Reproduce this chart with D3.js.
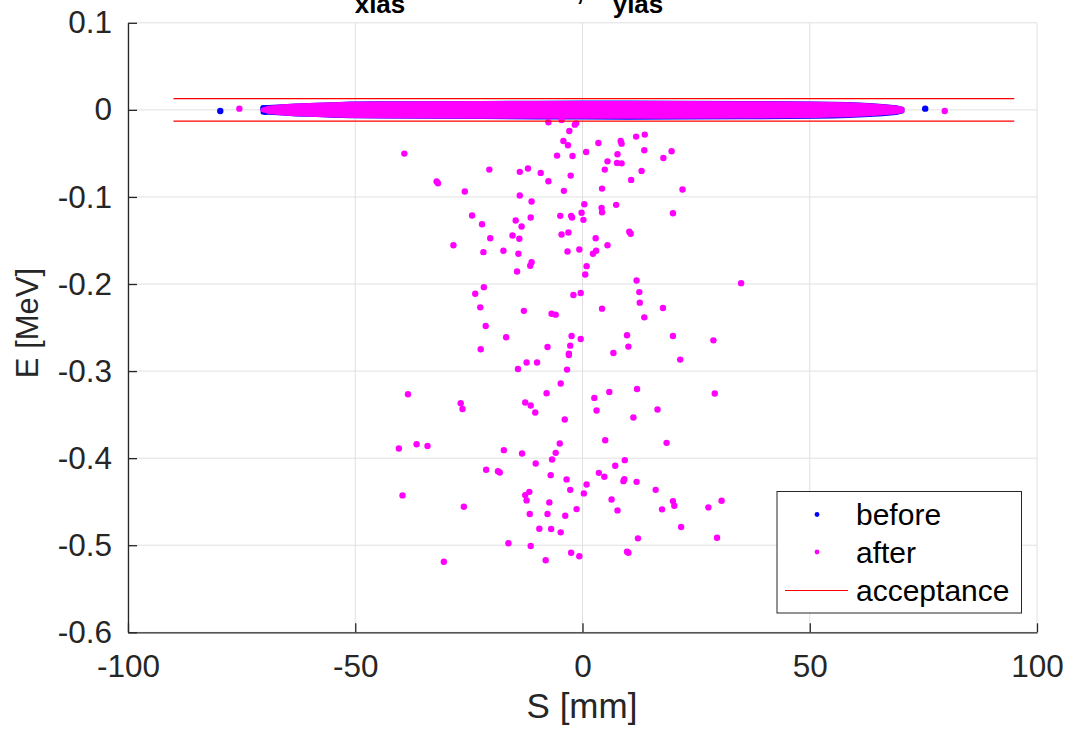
<!DOCTYPE html>
<html>
<head>
<meta charset="utf-8">
<script src="https://cdn.jsdelivr.net/npm/d3@7"></script>
<style>
  html, body { margin: 0; padding: 0; background: #ffffff; }
  svg { display: block; font-family: "Liberation Sans", Arial, Helvetica, sans-serif; }
</style>
</head>
<body>
<svg id="chart" width="1074" height="729"></svg>
<script>
// ---- axis ticks ----
const sTicks = [-100, -50, 0, 50, 100];
const sTickLabels = ["-100", "-50", "0", "50", "100"];
const eTicks = [-0.6, -0.5, -0.4, -0.3, -0.2, -0.1, 0, 0.1];
const eTickLabels = ["-0.6", "-0.5", "-0.4", "-0.3", "-0.2", "-0.1", "0", "0.1"];

// ---- acceptance window (MeV) and its S extent (mm) ----
const acceptanceE = [0.013, -0.013];
const acceptanceS = [-90, 95];

// ---- dense core of the bunch: envelope of the particle cloud per S slice ----
const coreS      = [-70.5, -69, -66, -63, -58.5, -55, -51, -45, -35, -22, -10, 0, 10, 22, 35, 45, 51, 55, 58.5, 63, 66, 69, 70.5];
const beforeTop  = [0.0035, 0.004, 0.0047, 0.0057, 0.0065, 0.0071, 0.0078, 0.0082, 0.0083, 0.0086, 0.0087, 0.0090, 0.0089, 0.0088, 0.0085, 0.0082, 0.0080, 0.0077, 0.0072, 0.0061, 0.0049, 0.0036, 0.0016];
const beforeBot  = [-0.0035, -0.004, -0.0048, -0.0058, -0.0066, -0.0072, -0.0078, -0.0081, -0.0084, -0.0089, -0.0092, -0.0094, -0.0095, -0.0094, -0.0091, -0.0088, -0.0085, -0.0081, -0.0076, -0.0066, -0.0055, -0.0041, -0.0022];
const afterTop   = [0.0008, 0.003, 0.0046, 0.0056, 0.0064, 0.0069, 0.0075, 0.0079, 0.0082, 0.0085, 0.0085, 0.0086, 0.0085, 0.0084, 0.0082, 0.0079, 0.0076, 0.0073, 0.0069, 0.0059, 0.0047, 0.0034, 0.0018];
const afterBot   = [-0.0008, -0.003, -0.0047, -0.0057, -0.0065, -0.0071, -0.0077, -0.0079, -0.0082, -0.0085, -0.0086, -0.0086, -0.0086, -0.0085, -0.0082, -0.0079, -0.0075, -0.0071, -0.0067, -0.0057, -0.0046, -0.0034, -0.0018];

// ---- isolated particles outside the core ----
const beforeS = [-79.7, 75.4, -70.2, -69.8];
const beforeE = [-0.0013, 0.0014, 0.0016, -0.0022];

const afterS = [
  -75.5, 79.7,
  -7.5, -4.6, -1.7, -1.4, -2.9, -4.2, -3.2, -5.6, -2.2, 0.8, 3.5, 8.4, 8.6, 11.8, 13.7, 13.6, 7.7, 5.5,
  7.6, 8.6, 4.9, 13.0, 17.8, 19.6, -39.2, -20.5, -13.8, -12.0, -9.2, -2.6, -7.5, -32.1, -31.8, -25.9,
  -13.8, -11.2, -4.1, 4.3, 10.7, 22.0, 0.4, 4.2, 4.3, 7.4, -0.2, 0.2, 19.9, -24.3, -22.1, -14.7,
  -13.4, -11.4, -4.9, -2.5, -2.3, -20.3, -15.4, -13.9, -4.6, -3.1, 2.9, 10.3, 10.6, -28.4, -21.8, -17.4,
  -14.1, -3.3, -0.7, 2.3, 3.0, 5.5, -14.4, -11.5, -11.2, 0.9, 0.6, 11.9, 12.5, 12.6, 34.9, -21.7,
  -23.6, -22.5, -2.0, -0.4, 4.3, 17.7, -12.9, -6.8, -5.9, 13.6, -21.3, -16.8, -22.4, -7.7, -2.4, -0.4,
  -2.7, -3.0, -3.0, 9.8, 10.1, 6.8, 19.9, 28.8, 21.5, -14.2, -12.3, -10.0, -3.4, -4.8, -7.9, -38.4,
  -26.8, -26.4, -12.6, -11.4, -10.4, -3.9, 2.6, 5.9, 12.0, 3.1, 16.5, 11.2, 29.1, -40.4, -36.5, -34.1,
  -17.3, -13.3, -5.0, -5.9, -6.7, -10.3, 5.0, 18.5, 9.3, 7.2, -21.2, -18.6, -18.2, -7.0, -3.5, 3.6,
  4.8, 9.0, 9.2, 11.9, 0.9, -2.7, 0.3, -12.6, -11.7, -12.3, -39.6, -26.1, -7.3, 16.1, 6.4, 7.7,
  -1.3, -3.8, -7.7, -11.6, 19.9, 20.2, 17.5, 27.7, 30.6, 21.7, -9.5, -6.9, -4.8, -16.3, -11.4, 12.2,
  29.6, -30.5, -8.1, -2.5, -0.7, 9.8, 10.1
];
const afterE = [
  0.0014, -0.0013,
  -0.0143, -0.0116, -0.0170, -0.0155, -0.0242, -0.0357, -0.0407, -0.0525, -0.0529, -0.0483, -0.0380, -0.0357, -0.0388, -0.0307, -0.0284, -0.0464, -0.0510, -0.0591,
  -0.0609, -0.0614, -0.0686, -0.0701, -0.0552, -0.0476, -0.0502, -0.0686, -0.0712, -0.0674, -0.0724, -0.0755, -0.0820, -0.0823, -0.0843, -0.0938,
  -0.0984, -0.1053, -0.0930, -0.0904, -0.0804, -0.0915, -0.1084, -0.1125, -0.1175, -0.1091, -0.1182, -0.1263, -0.1187, -0.1213, -0.1313, -0.1271,
  -0.1339, -0.1236, -0.1217, -0.1217, -0.1236, -0.1474, -0.1443, -0.1480, -0.1431, -0.1408, -0.1474, -0.1400, -0.1423, -0.1554, -0.1634, -0.1618,
  -0.1653, -0.1626, -0.1603, -0.1653, -0.1618, -0.1554, -0.1856, -0.1790, -0.1749, -0.1795, -0.1890, -0.1959, -0.2093, -0.2214, -0.1990, -0.2036,
  -0.2111, -0.2268, -0.2127, -0.2104, -0.2283, -0.2276, -0.2308, -0.2341, -0.2352, -0.2383, -0.2483, -0.2612, -0.2750, -0.2724, -0.2597, -0.2632,
  -0.2708, -0.2799, -0.2815, -0.2589, -0.2719, -0.2792, -0.2597, -0.2647, -0.2868, -0.2976, -0.2902, -0.2902, -0.2983, -0.3143, -0.3255, -0.3266,
  -0.3369, -0.3435, -0.3361, -0.3396, -0.3476, -0.3556, -0.3308, -0.3240, -0.3205, -0.3453, -0.3442, -0.3533, -0.3258, -0.3889, -0.3840, -0.3859,
  -0.3908, -0.3946, -0.3831, -0.3939, -0.4015, -0.4061, -0.3794, -0.3824, -0.4023, -0.4088, -0.4134, -0.4149, -0.4164, -0.4195, -0.4244, -0.4169,
  -0.4214, -0.4264, -0.4241, -0.4272, -0.4302, -0.4364, -0.4405, -0.4424, -0.4387, -0.4485, -0.4428, -0.4558, -0.4508, -0.4364, -0.4474, -0.4600,
  -0.4585, -0.4662, -0.4642, -0.4642, -0.4493, -0.4547, -0.4588, -0.4565, -0.4490, -0.4791, -0.4811, -0.4814, -0.4852, -0.4978, -0.5009, -0.4921,
  -0.4914, -0.5189, -0.5173, -0.5086, -0.5127, -0.5075, -0.5086
];

// ---- legend entries ----
const legendNames = ["before", "after", "acceptance"];

// ---- colours ----
const blue = "#0000ff";
const magenta = "#ff00ff";
const red = "#ff0000";
const axisColor = "#262626";
const gridColor = "#e0e0e0";

const svg = d3.select("#chart");
const plot = { left: 128, right: 1037, top: 22.8, bottom: 632.3 };

const x = d3.scaleLinear().domain([-100, 100]).range([plot.left, plot.right]);
const y = d3.scaleLinear().domain([-0.6, 0.1]).range([plot.bottom, plot.top]);

// grid
const grid = svg.append("g");
grid.selectAll("line.gx").data(sTicks).join("line")
  .attr("x1", d => x(d)).attr("x2", d => x(d))
  .attr("y1", plot.top).attr("y2", plot.bottom)
  .attr("stroke", gridColor).attr("stroke-width", 1);
grid.selectAll("line.gy").data(eTicks).join("line")
  .attr("y1", d => y(d)).attr("y2", d => y(d))
  .attr("x1", plot.left).attr("x2", plot.right)
  .attr("stroke", gridColor).attr("stroke-width", 1);

// dense core, "before" underneath "after"
const coreIdx = d3.range(coreS.length);
function coreArea(top, bot) {
  return d3.area()
    .x(i => x(coreS[i]))
    .y0(i => y(bot[i]))
    .y1(i => y(top[i]))
    .curve(d3.curveLinear)(coreIdx);
}
const marks = svg.append("g");
const dotR = 3.2;

marks.append("path").attr("d", coreArea(beforeTop, beforeBot))
  .attr("fill", blue).attr("stroke", blue).attr("stroke-width", 3).attr("stroke-linejoin", "round");
marks.selectAll("circle.before").data(d3.range(beforeS.length)).join("circle")
  .attr("cx", i => x(beforeS[i])).attr("cy", i => y(beforeE[i]))
  .attr("r", dotR).attr("fill", blue);

marks.append("path").attr("d", coreArea(afterTop, afterBot))
  .attr("fill", magenta).attr("stroke", magenta).attr("stroke-width", 3).attr("stroke-linejoin", "round");
marks.selectAll("circle.after").data(d3.range(afterS.length)).join("circle")
  .attr("cx", i => x(afterS[i])).attr("cy", i => y(afterE[i]))
  .attr("r", dotR).attr("fill", magenta);

// acceptance lines
marks.selectAll("line.acc").data(acceptanceE).join("line")
  .attr("x1", x(acceptanceS[0])).attr("x2", x(acceptanceS[1]))
  .attr("y1", d => y(d)).attr("y2", d => y(d))
  .attr("stroke", red).attr("stroke-width", 1.2);

// axes (ticks pointing inward, no box)
const xAxis = d3.axisBottom(x).tickValues(sTicks)
  .tickFormat((d, i) => sTickLabels[i]).tickSizeInner(-9).tickSizeOuter(0).tickPadding(22.5);
const yAxis = d3.axisLeft(y).tickValues(eTicks)
  .tickFormat((d, i) => eTickLabels[i]).tickSizeInner(-9).tickSizeOuter(0).tickPadding(16);

const gx = svg.append("g").attr("transform", `translate(0,${plot.bottom})`).call(xAxis);
const gy = svg.append("g").attr("transform", `translate(${plot.left},0)`).call(yAxis);
[gx, gy].forEach(g => {
  g.select(".domain").attr("stroke", axisColor).attr("stroke-width", 1.3);
  g.selectAll(".tick line").attr("stroke", axisColor).attr("stroke-width", 1.3);
  g.selectAll(".tick text").attr("fill", "#262626")
    .style("font-size", "31.5px").style("font-family", '"Liberation Sans", Arial, sans-serif');
});

// axis titles
svg.append("text").attr("x", 582).attr("y", 717.5).attr("text-anchor", "middle")
  .attr("fill", "#262626").style("font-size", "35px").text("S [mm]");
svg.append("text").attr("transform", "translate(38,323) rotate(-90)").attr("text-anchor", "middle")
  .attr("fill", "#262626").style("font-size", "31px").text("E [MeV]");

// heading subscripts; the main heading line sits above the frame
const title = svg.append("g").attr("fill", "#000").style("font-weight", "bold").style("font-size", "26px");
title.append("text").attr("x", 380).attr("y", 13.3).attr("text-anchor", "middle").text("xlas");
title.append("text").attr("x", 580).attr("y", -0.5).attr("text-anchor", "middle").text(",");
title.append("text").attr("x", 638).attr("y", 13.3).attr("text-anchor", "middle").text("ylas");

// legend
const lg = svg.append("g");
lg.append("rect").attr("x", 777).attr("y", 491.5).attr("width", 244.5).attr("height", 121.5)
  .attr("fill", "#fff").attr("stroke", axisColor).attr("stroke-width", 1);
const rowY = [514.5, 552, 590.5];
lg.append("circle").attr("cx", 817).attr("cy", rowY[0]).attr("r", 2.4).attr("fill", blue);
lg.append("circle").attr("cx", 817).attr("cy", rowY[1]).attr("r", 2.4).attr("fill", magenta);
lg.append("line").attr("x1", 785).attr("x2", 848).attr("y1", rowY[2]).attr("y2", rowY[2])
  .attr("stroke", red).attr("stroke-width", 1);
lg.selectAll("text").data(legendNames).join("text")
  .attr("x", 856).attr("y", (d, i) => rowY[i] + 10.5)
  .attr("fill", "#000").style("font-size", "30px").text(d => d);
</script>
</body>
</html>
